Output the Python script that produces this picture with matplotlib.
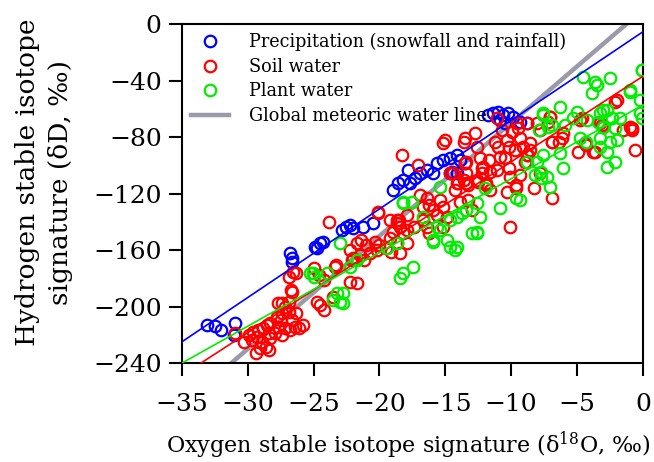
import matplotlib
matplotlib.use('Agg')
import matplotlib.pyplot as plt
import numpy as np

# precipitation (snowfall and rainfall)
precip_o = [-33.1, -32.5, -32.0, -31.0, -31.05,
            -26.8, -26.65, -26.6,
            -24.9, -24.5, -24.3, -24.7,
            -22.85, -22.5, -22.2, -22.0, -21.25, -20.5,
            -18.98, -18.6, -18.2, -17.7, -17.3, -17.8, -16.9, -16.4, -15.9,
            -15.6, -15.2, -14.65, -14.1, -13.9, -13.5, -14.65, -14.5, -14.1,
            -11.77, -11.4, -11.0, -10.6, -10.25, -9.87, -9.34, -8.8, -10.85, -10.5]
precip_d = [-213, -214, -216.5, -211.6, -220,
            -162, -165.6, -168.4,
            -157.8, -155, -154, -158.5,
            -145.8, -143.7, -142.3, -144.4, -143.7, -140.8,
            -117.5, -112.5, -110.4, -112.5, -109, -103.3, -105.4, -103.3, -105.4,
            -98.4, -96.2, -94.8, -92.7, -96.2, -98.4, -105.4, -104.7, -105.4,
            -64.4, -63, -62.3, -64.4, -63, -65.8, -69.4, -70, -68, -70]

# soil water
soil_o = [-31.0, -30.3, -29.9, -29.6, -29.2, -28.8, -28.5, -28.4, -29.3, -29.7,
          -28.9, -29.05, -29.4, -28.4, -28.3, -27.9, -27.7, -27.5, -27.4, -27.15,
          -26.9, -26.6, -26.9, -26.6, -27.15, -27.4, -26.8, -26.4, -26.1, -25.8,
          -26.3, -27.4, -27.7, -26.9, -26.3, -24.75, -24.5, -24.2, -24.6, -24.2,
          -26.7, -27.8, -28.3, -28.6, -23.5, -23.4, -22.1,
          -23.8, -20.1, -26.55, -25.0, -23.3, -22.2, -21.7,
          -22.2, -21.7, -21.4, -21.0, -21.5, -22.0, -21.2, -20.7, -20.3, -20.2,
          -20.0, -19.5, -19.2, -19.0, -18.7, -18.5, -17.9, -18.7, -18.45, -19.1,
          -18.2, -17.9,
          -18.3, -17.05, -20.1, -16.9, -16.4, -16.2, -15.9, -15.65, -15.4, -15.15,
          -14.9, -16.7, -16.7, -16.4, -19.2, -18.7, -18.4, -17.9, -17.4, -16.2,
          -15.15, -14.65, -14.1, -13.5, -13.4, -13.4, -12.6, -12.2, -12.1, -11.9,
          -12.6, -15.15, -13.6, -13.0, -13.25, -14.3, -13.9,
          -15.0, -13.5, -12.75, -11.1, -10.7, -11.2, -11.0, -10.35, -9.97, -9.5,
          -8.83, -10.2, -9.3, -9.1, -9.7, -10.5, -10.85, -11.7, -12.4, -12.25,
          -11.6, -11.1, -10.2, -10.1, -9.3, -8.95, -8.58, -8.7, -9.6, -13.6,
          -14.4, -14.0, -13.3, -12.5, -13.4,
          -7.05, -7.2, -7.8, -6.04, -6.4, -6.9, -4.8, -4.9, -4.3, -3.6,
          -3.1, -2.1, -1.48, -0.85, -0.6, -8.57, -8.8,
          -10.1, -6.9, -8.3, -9.6, -10.35, -11.6, -11.9, -7.8,
          -0.8, -3.8, -4.4, -3.0, -6.9, -6.15,
          -7.06, -4.6, -2.0, -3.26, -1.0, -8.04, -9.56]
soil_d = [-219, -224.8, -220.1, -217.7, -216.5, -215.4, -213, -218.9, -221.3, -223.6,
          -224.8, -229.5, -233.1, -230.7, -222.4, -218.9, -214.2, -209.5, -204.8, -200,
          -196.5, -189.4, -203.6, -209.5, -215.4, -220.1, -216.6, -214.2, -215.4, -213,
          -204.8, -197.7, -197.7, -178.8, -176.5, -196.5, -198.9, -202.4, -177.6, -181.2,
          -188.3, -207.1, -211.9, -228.4, -193, -171.8, -167.1,
          -139.9, -134, -175.3, -173, -170.6, -182.4, -183.6,
          -160, -155.3, -152.9, -156.4, -163.5, -165.9, -167.1, -162.3, -154.1, -160,
          -156.4, -158.8, -151.7, -147, -141.1, -138.8, -135.2, -155.3, -162.3, -161.2,
          -148.2, -155.3,
          -92.7, -99.8, -132.8, -121, -123.4, -128.1, -131.6, -135.2, -124.6, -129.3,
          -136.3, -129.3, -138.7, -143.4, -138.7, -138.7, -143.4, -145.8, -143.4, -148.1,
          -143.4, -105.7, -112.8, -98.6, -105.7, -112.8, -110.4, -105.7, -101, -112.8,
          -86.8, -84.5, -83.3, -131.6, -124.6, -117.5, -125.7,
          -82.1, -80.9, -77.4, -66.7, -75, -83.3, -86.8, -82.1, -76.2, -73.8,
          -70.3, -86.8, -80.9, -86.8, -89.2, -95.1, -93.9, -96.2, -95.1, -102.1,
          -104.5, -103.3, -102.1, -108, -106.8, -97.4, -89.2, -92.7, -113.9, -110.4,
          -105.7, -112.8, -113.9, -111.6, -97.4,
          -65.5, -69.1, -75, -77.3, -83.2, -83.2, -67.9, -90.3, -85.6, -90.3,
          -71.4, -54.9, -75, -75, -89.1, -84.4, -92.7,
          -143.4, -123.4, -116.3, -116.3, -118.6, -117.4, -113.9, -105.7,
          -73.6, -90.6, -84.2, -72.9, -83.5, -80.7,
          -65.8, -66.5, -53.8, -70, -72.9, -70, -70]

# plant water
plant_o = [-25.25, -25.05, -24.0, -23.2, -23.0, -22.8, -23.5, -18.45, -18.2, -17.45,
           -14.65, -14.27, -15.9, -22.2, -21.7, -19.4, -18.7,
           -23.0, -18.2, -25.0, -22.75,
           -18.2, -17.55, -15.4, -14.65, -14.1, -13.4, -12.4, -12.0, -12.6, -15.4,
           -16.7, -15.6, -14.9, -15.9, -13.7, -12.6,
           -10.85, -9.6, -7.7, -12.6, -14.1,
           -2.7, -6.07, -7.3, -7.06, -9.3, -13.0,
           -7.56, -7.2, -7.9, -8.83, -8.2, -7.7,
           -4.52, -3.5, -3.9, -2.5, -0.1, -0.98, -0.22, -0.22, -0.1, -6.3,
           -5.03, -5.28, -7.56, -3.25, -2.75, -2.37, -1.74, -3.4, -3.0, -2.1,
           -4.8, -4.3, -3.25, -2.5, -2.0, -3.25, -2.75, -6.3, -7.56, -8.06,
           -2.1, -5.9, -6.9,
           -3.6, -1.0, -0.1, -3.0, -4.25]
plant_d = [-176.5, -176.2, -176.2, -190.4, -196.7, -197.5, -195.3, -179.8, -176.2, -172,
           -157.8, -160, -154.3, -172, -167, -158.5, -155,
           -155.3, -127, -178.8, -190.6,
           -125.7, -125.7, -115.1, -138.7, -136.3, -131.6, -136.3, -116.3, -147, -145.8,
           -136.6, -143.7, -152.9, -152.9, -133.8, -126.7,
           -130.4, -123.4, -109.2, -148.1, -157.5,
           -101, -101.9, -108.3, -115.4, -124.6, -147.9,
           -63.2, -72.6, -75, -97.4, -106.8, -104.5,
           -37.2, -43.1, -49, -38.4, -32.5, -47.8, -53.7, -63.2, -66.7, -58.5,
           -62, -66.7, -64.4, -63.2, -60.8, -66.7, -66.7, -69.1, -72.6, -73.8,
           -80.9, -83.2, -80.9, -83.2, -82.1, -86.8, -90.3, -91.5, -92.7, -97.4,
           -97.4, -71.4, -71.4,
           -41, -46.7, -32.5, -60.9, -68]

# regression lines: slope, intercept, x start, x end
fit_precip = [6.27, -5.5, -35, 0]
fit_soil = [6.05, -37, -33.6, 0]
fit_plant = [5.22, -57.3, -35, 0]
gmwl = [8, 10, -31.25, -1.25]

plt.rcParams['font.family'] = 'DejaVu Serif'
plt.rcParams['mathtext.fontset'] = 'dejavuserif'

fig = plt.figure(figsize=(6.54, 4.62), dpi=100)
ax = fig.add_axes([0.278, 0.214, 0.705, 0.734])

ms = 8.3
mew = 1.6
ax.plot(precip_o, precip_d, 'o', mfc='none', mec='#0000ff', ms=ms, mew=mew,
        label='Precipitation (snowfall and rainfall)', zorder=3)
ax.plot(soil_o, soil_d, 'o', mfc='none', mec='#ff0000', ms=ms, mew=mew,
        label='Soil water', zorder=3)
ax.plot(plant_o, plant_d, 'o', mfc='none', mec='#00ee00', ms=ms, mew=mew,
        label='Plant water', zorder=3)

def fit_line(p, color, lw, z, label=None):
    xs = np.array([p[2], p[3]])
    ax.plot(xs, p[0] * xs + p[1], color=color, lw=lw, zorder=z, label=label)

fit_line(gmwl, '#9a9aab', 3.2, 2, 'Global meteoric water line')
fit_line(fit_precip, '#0000ff', 1.2, 4)
fit_line(fit_soil, '#ff0000', 1.2, 4)
fit_line(fit_plant, '#00ee00', 1.2, 4)

ax.set_xlim(-35, 0)
ax.set_ylim(-240, 0)
ax.set_xticks(np.arange(-35, 1, 5))
ax.set_yticks(np.arange(-240, 1, 40))
ax.tick_params(direction='out', length=9.5, width=1.5, labelsize=18)
ax.tick_params(axis='x', pad=12)
ax.tick_params(axis='y', pad=5)
for s in ax.spines.values():
    s.set_linewidth(1.5)

ax.set_xlabel('Oxygen stable isotope signature (δ$^{18}$O, ‰)', fontsize=16)
ax.xaxis.set_label_coords(0.492, -0.195)
ax.set_ylabel('Hydrogen stable isotope\nsignature (δD, ‰)', fontsize=19,
              linespacing=1.4)
ax.yaxis.set_label_coords(-0.235, 0.534)

ax.legend(loc='upper left', frameon=False, fontsize=12.7, handlelength=2.2,
          borderaxespad=0.1, labelspacing=0.38, handletextpad=1.1)

fig.savefig('out.png', dpi=100)
